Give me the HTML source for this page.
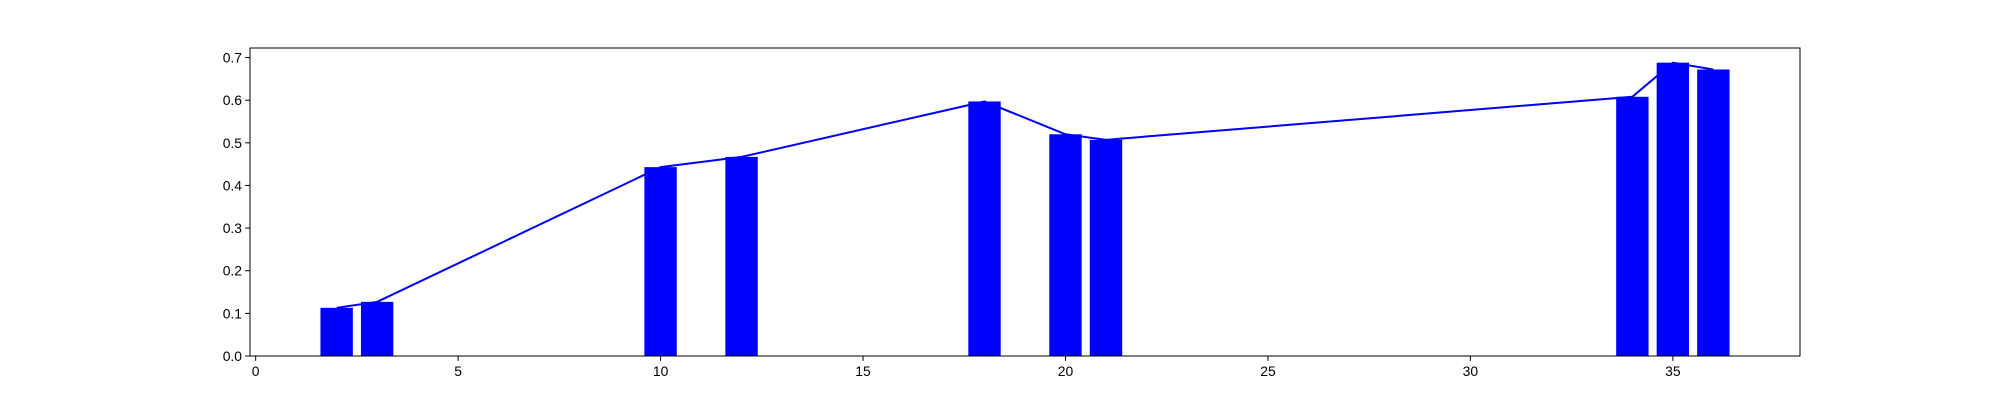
<!DOCTYPE html>
<html><head><meta charset="utf-8"><style>
html,body{margin:0;padding:0;background:#fff;}
svg text{font-family:"Liberation Sans","DejaVu Sans",sans-serif;font-size:13.9px;fill:#000;}
</style></head><body>
<svg id="chart" width="2000" height="400" xmlns="http://www.w3.org/2000/svg">
<rect x="0" y="0" width="2000" height="400" fill="#fff"/>
<g id="marks"></g>
<g id="axes"></g>
</svg>
<script>
const categories = [2, 3, 10, 12, 18, 20, 21, 34, 35, 36];
const values = [0.113, 0.127, 0.443, 0.467, 0.597, 0.52, 0.507, 0.608, 0.688, 0.672];
const xTicks = [0, 5, 10, 15, 20, 25, 30, 35];
const yTicks = [0.0, 0.1, 0.2, 0.3, 0.4, 0.5, 0.6, 0.7];

const L = 250, R = 1800, T = 48, B = 356;
const barW = 0.8;
const dmin = Math.min(...categories) - barW / 2, dmax = Math.max(...categories) + barW / 2;
const xmin = dmin - 0.05 * (dmax - dmin), xmax = dmax + 0.05 * (dmax - dmin);
const ymin = 0, ymax = Math.max(...values) * 1.05;
const sx = v => L + (v - xmin) / (xmax - xmin) * (R - L);
const sy = v => B - (v - ymin) / (ymax - ymin) * (B - T);
const NS = 'http://www.w3.org/2000/svg';
const marks = document.getElementById('marks');
const axes = document.getElementById('axes');
function mk(tag, attrs, parent) {
  const e = document.createElementNS(NS, tag);
  for (const k in attrs) e.setAttribute(k, attrs[k]);
  parent.appendChild(e);
  return e;
}
categories.forEach((c, i) => {
  const r = mk('rect', {x: sx(c - barW / 2), y: sy(values[i]), width: sx(c + barW / 2) - sx(c - barW / 2), height: sy(0) - sy(values[i]), fill: '#0000ff'}, marks);
  
  
});
const pts = categories.map((c, i) => sx(c) + ',' + sy(values[i])).join(' ');
const line = mk('polyline', {points: pts, fill: 'none', stroke: '#0000ff', 'stroke-width': 2}, marks);



const frame = mk('rect', {x: L, y: T, width: R - L, height: B - T, fill: 'none', stroke: '#000', 'stroke-width': 1}, axes);


xTicks.forEach(t => {
  const x = sx(t);
  mk('line', {x1: x, x2: x, y1: B, y2: B + 4.9, stroke: '#000', 'stroke-width': 1}, axes);
  const tx = mk('text', {x: x, y: B + 20, 'text-anchor': 'middle'}, axes);
  tx.textContent = t;
  
  
});
yTicks.forEach(t => {
  const y = sy(t);
  mk('line', {x1: L - 4.9, x2: L, y1: y, y2: y, stroke: '#000', 'stroke-width': 1}, axes);
  const ty = mk('text', {x: L - 8, y: y + 5, 'text-anchor': 'end'}, axes);
  ty.textContent = t.toFixed(1);
  
  
});
</script>
</body></html>
